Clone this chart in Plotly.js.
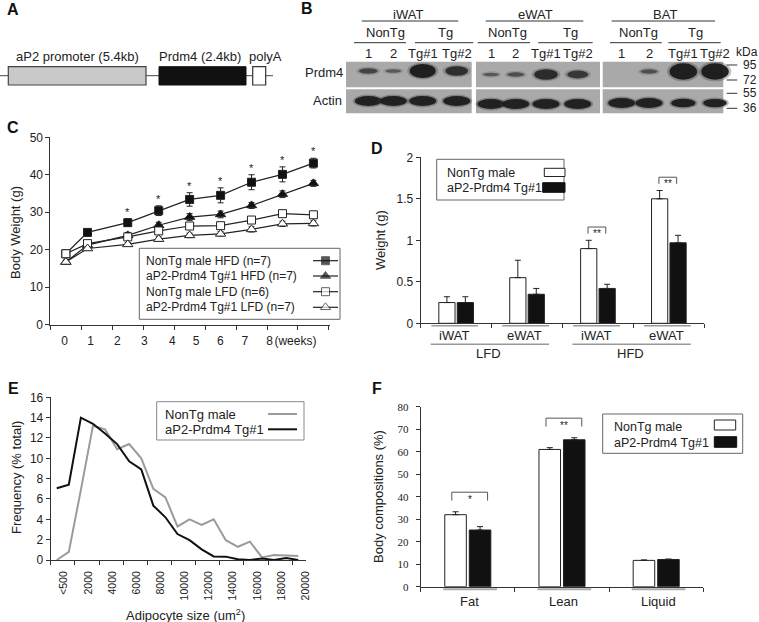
<!DOCTYPE html>
<html><head><meta charset="utf-8">
<script src="https://cdn.plot.ly/plotly-3.0.1.min.js"></script>
<style>html,body{margin:0;padding:0;background:#fff}#chart{width:759px;height:622px}</style>
</head><body><div id="chart"></div>
<script>
// ---------------- DATA ----------------
// Panel C: body weight over time
const weekPos = [0, 0.7, 2, 3, 4, 5, 6, 7, 8];
const weekLabels = ['0','1','2','3','4','5','6','7','8','(weeks)'];
const nonTgHFD    = [18.9, 24.6, 27.2, 30.4, 33.4, 34.5, 38.0, 40.1, 43.1];
const nonTgHFDerr = [0.6, 0.8, 1.0, 1.3, 1.8, 2.0, 2.0, 2.0, 1.3];
const tgHFD       = [16.7, 21.2, 23.8, 26.5, 28.7, 29.4, 31.8, 34.8, 37.7];
const tgHFDerr    = [0.5, 0.6, 0.8, 0.8, 0.9, 0.9, 0.8, 0.9, 0.8];
const nonTgLFD    = [18.9, 21.6, 23.4, 25.0, 26.3, 26.4, 27.9, 29.6, 29.3];
const nonTgLFDerr = [0.5, 0.6, 0.7, 0.7, 0.8, 0.8, 0.8, 0.9, 0.9];
const tgLFD       = [16.7, 20.3, 21.4, 22.8, 23.8, 24.2, 25.4, 26.9, 27.0];
const tgLFDerr    = [0.4, 0.5, 0.5, 0.6, 0.6, 0.6, 0.7, 0.7, 0.7];
const sigWeeksC   = [2, 3, 4, 5, 6, 7, 8];
const cNames = ['NonTg male HFD (n=7)','aP2-Prdm4 Tg#1 HFD (n=7)','NonTg male LFD (n=6)','aP2-Prdm4 Tg#1 LFD (n=7)'];

// Panel D: fat pad weights
const dCats     = ['LFD iWAT','LFD eWAT','HFD iWAT','HFD eWAT'];
const dTickText = ['iWAT','eWAT','iWAT','eWAT'];
const dGroups   = ['LFD','HFD'];
const dNonTg    = [0.25, 0.55, 0.90, 1.50];
const dNonTgErr = [0.07, 0.21, 0.10, 0.10];
const dTg       = [0.25, 0.35, 0.42, 0.97];
const dTgErr    = [0.07, 0.07, 0.05, 0.09];
const dSig      = ['', '', '**', '**'];

// Panel E: adipocyte size distribution
const sizeBins = ['<500','1000','2000','3000','4000','5000','6000','7000','8000','9000','10000',
                  '11000','12000','13000','14000','15000','16000','17000','18000','19000','20000'];
const freqNonTg = [0, 0.8, 6.9, 13.2, 12.85, 10.9, 11.4, 10.0, 7.0, 6.15, 3.3, 4.0, 3.45, 4.0, 1.95, 1.3, 1.8, 0.25, 0.5, 0.45, 0.4];
const freqTg    = [7.05, 7.4, 14.0, 13.4, 12.45, 11.4, 9.7, 8.9, 5.35, 4.2, 2.55, 1.95, 1.05, 0.35, 0.33, 0.07, 0, 0.15, 0, 0.2, 0];

// Panel F: body composition
const fCats     = ['Fat','Lean','Liquid'];
const fNonTg    = [32.0, 61.0, 11.7];
const fNonTgErr = [1.3, 0.8, 0.2];
const fTg       = [25.2, 65.3, 12.1];
const fTgErr    = [1.5, 0.9, 0.2];
const fSig      = ['*', '**', ''];

// Panel B: western blot
const tissues     = ['iWAT','eWAT','BAT'];
const groupLabels = ['NonTg','Tg'];
const laneLabels  = ['1','2','Tg#1','Tg#2'];
const prdm4Signal = [[0.55,0.35,1.0,0.8],[0.35,0.45,0.85,0.7],[0.0,0.45,1.1,1.1]];
const actinSignal = [[1,1,1,1],[1,1,1,1],[1,1,0.8,0.75]];
const kDaLabels   = ['95','72','55','36'];

// ---------------- LAYOUT HELPERS ----------------
const W = 759, H = 622;
const FONT = '"Liberation Sans", Arial, sans-serif';
const SERIF = '"Liberation Serif", "Times New Roman", serif';
const TXT = '#222';
const dx = (a,b)=>[a/W, b/W];
const dy = (t,b)=>[1-b/H, 1-t/H];
const ann = [], shp = [];
function txt(x, y, text, o) {
  o = o || {};
  ann.push(Object.assign({xref:'x9', yref:'y9', x:x, y:y, text:text, showarrow:false,
    xanchor:'center', yanchor:'middle', font:{family:FONT, size:o.size||13, color:o.color||TXT}}, o.extra||{}));
}
function line(x0,y0,x1,y1,color,width,xref,yref){
  shp.push({type:'line', xref:xref||'x9', yref:yref||'y9', x0:x0,y0:y0,x1:x1,y1:y1, line:{color:color||'#333', width:width||1}});
}
function rect(x0,y0,x1,y1,fill,lc,lw,layer){
  shp.push({type:'rect', xref:'x9', yref:'y9', x0:x0,y0:y0,x1:x1,y1:y1, fillcolor:fill, line:{color:lc||'rgba(0,0,0,0)', width:lw||0}, layer:layer||'above'});
}
function ellipse(cx,cy,w,h,color){
  shp.push({type:'circle', xref:'x9', yref:'y9', x0:cx-w/2, x1:cx+w/2, y0:cy-h/2, y1:cy+h/2, fillcolor:color, line:{width:0, color:'rgba(0,0,0,0)'}});
}
const baseAxis = {showgrid:false, zeroline:false, showline:true, linecolor:'#333', linewidth:1,
  ticks:'outside', ticklen:4, tickwidth:1, tickcolor:'#333', automargin:false, fixedrange:true,
  tickfont:{family:FONT, size:11, color:TXT}};
const ax = o => Object.assign({}, baseAxis, o);

// Panel letters
[['A',13,9],['B',307,8],['C',13,127],['D',377,148],['E',13,388],['F',377,388]].forEach(p =>
  ann.push({xref:'x9', yref:'y9', x:p[1], y:p[2], text:'<b>'+p[0]+'</b>', showarrow:false,
    xanchor:'center', yanchor:'middle', font:{family:FONT, size:16, color:'#111'}}));

// ---------------- PANEL A: construct ----------------
line(0, 75.7, 273, 75.7, '#444', 1);
rect(8.3, 66.7, 146, 85, '#c9c9c9', '#444', 1.2);
rect(159, 66.7, 246, 85, '#111', '#111', 1);
rect(252.7, 66.7, 265.7, 85, '#fff', '#333', 1.2);
txt(77.3, 56, 'aP2 promoter (5.4kb)');
txt(200, 56, 'Prdm4 (2.4kb)');
txt(265, 56, 'polyA');

// ---------------- PANEL B: western blot ----------------
const blotX = [[346,471.7],[476,600],[602.7,723.3]];
const laneXs = [[368.3,393.3,422.7,456.7],[491,515.7,546,577.7],[621.7,649,683.3,715]];
const tissueHdr = [[408.3,361.7,458.3],[535,485.7,583.3],[665,611.7,715]];
const grpHdr = [[[385,354,406],[445.7,415,473.3]],[[507.3,477.7,530],[570.7,538.3,592.7]],[[638.3,610,661.7],[695,668.3,720.7]]];
const prdmY = [71, 74.5, 71.5], actY = [101, 104, 103];
tissues.forEach((t, ti) => {
  txt(tissueHdr[ti][0], 14, t);
  line(tissueHdr[ti][1], 21, tissueHdr[ti][2], 21, '#333', 1);
  groupLabels.forEach((g, gi) => {
    const h = grpHdr[ti][gi];
    txt(h[0], 32.3, g);
    line(h[1], 42.7, h[2], 42.7, '#333', 1);
  });
  laneLabels.forEach((l, li) => txt(laneXs[ti][li], 53.3, l));
  rect(blotX[ti][0], 61.7, blotX[ti][1], 87.3, '#a9a9a9');
  rect(blotX[ti][0], 89.3, blotX[ti][1], 113.3, '#a9a9a9');
  prdm4Signal[ti].forEach((s, li) => {
    if (s <= 0) return;
    const w = 10 + 16*s, hh = 2 + 12*s*s, a = Math.min(0.95, 0.25 + 0.7*s);
    ellipse(laneXs[ti][li], prdmY[ti], w + 5, hh + 3, 'rgba(60,60,60,' + (a*0.35).toFixed(2) + ')');
    ellipse(laneXs[ti][li], prdmY[ti], w, hh, 'rgba(25,25,25,' + a.toFixed(2) + ')');
  });
  actinSignal[ti].forEach((s, li) => {
    const w = 14 + 13*s, hh = 3 + 7*s;
    ellipse(laneXs[ti][li], actY[ti], w + 4, hh + 3, 'rgba(60,60,60,0.35)');
    ellipse(laneXs[ti][li], actY[ti], w, hh, 'rgba(25,25,25,0.92)');
  });
});
txt(345, 72.7, 'Prdm4', {extra:{xanchor:'right'}});
txt(344, 100, 'Actin', {extra:{xanchor:'right'}});
txt(747, 52.3, 'kDa', {size:12});
const kDaY = [65, 80, 93.3, 108.3];
kDaLabels.forEach((k, i) => {
  line(726.7, kDaY[i], 737.3, kDaY[i], '#333', 1);
  txt(741, kDaY[i], k, {size:12, extra:{xanchor:'left'}});
});

// ---------------- TRACES ----------------
const traces = [];
const cSeries = [
  {y:nonTgHFD, e:nonTgHFDerr, sym:'square', fill:'#111', size:8},
  {y:tgHFD, e:tgHFDerr, sym:'triangle-up', fill:'#111', size:9},
  {y:nonTgLFD, e:nonTgLFDerr, sym:'square', fill:'#fff', size:8},
  {y:tgLFD, e:tgLFDerr, sym:'triangle-up', fill:'#fff', size:9}
];
cSeries.forEach((s, i) => traces.push({type:'scatter', mode:'lines+markers', name:cNames[i], x:weekPos, y:s.y,
  xaxis:'x', yaxis:'y', line:{color:'#222', width:1.2},
  marker:{symbol:s.sym, size:s.size, color:s.fill, line:{color:'#222', width:1}},
  error_y:{type:'data', array:s.e, visible:true, color:'#222', thickness:1, width:3}, hoverinfo:'skip'}));
// invisible carrier so the week-label axis is drawn
traces.push({type:'scatter', mode:'markers', x:weekPos, y:nonTgHFD, xaxis:'x2', yaxis:'y',
  marker:{opacity:0, size:1}, hoverinfo:'skip', showlegend:false});
sigWeeksC.forEach(i => ann.push({xref:'x', yref:'y', x:weekPos[i], y:nonTgHFD[i] + nonTgHFDerr[i], text:'*',
  showarrow:false, xanchor:'center', yanchor:'bottom', yshift:-1, font:{family:FONT, size:11, color:TXT}}));

// Panel C legend (text left, symbol right)
rect(139.3, 248.3, 340, 319.3, '#fff', '#666', 1, 'below');
const cLegY = [260.7, 276, 291.7, 307.3];
cNames.forEach((n, i) => {
  txt(144, cLegY[i], n, {size:12, extra:{xanchor:'left'}});
  traces.push({type:'scatter', mode:'lines+markers', x:[313, 325.5, 338], y:[cLegY[i], cLegY[i], cLegY[i]],
    xaxis:'x9', yaxis:'y9', line:{color:'#222', width:1.2},
    marker:{symbol:cSeries[i].sym, size:[0, cSeries[i].size, 0], color:cSeries[i].fill, line:{color:'#222', width:[0,1,0]}},
    hoverinfo:'skip', showlegend:false});
});
txt(15, 233, 'Body Weight (g)', {size:13, extra:{textangle:-90}});

// Panel D
const dIdx = dCats.map((_, i) => i);
const zeros = a => a.map(() => 0);
traces.push({type:'bar', x:dIdx, y:dNonTg, xaxis:'x3', yaxis:'y3', name:'NonTg male',
  marker:{color:'#fff', line:{color:'#222', width:1}},
  error_y:{type:'data', symmetric:false, array:dNonTgErr, arrayminus:zeros(dNonTgErr), color:'#222', thickness:1, width:3}, hoverinfo:'skip'});
traces.push({type:'bar', x:dIdx, y:dTg, xaxis:'x3', yaxis:'y3', name:'aP2-Prdm4 Tg#1',
  marker:{color:'#111', line:{color:'#222', width:1}},
  error_y:{type:'data', symmetric:false, array:dTgErr, arrayminus:zeros(dTgErr), color:'#222', thickness:1, width:3}, hoverinfo:'skip'});
dCats.forEach((c, i) => {
  ann.push({xref:'x3', yref:'y9', x:i - 0.03, y:335, text:dTickText[i], showarrow:false,
    font:{family:FONT, size:13, color:TXT}});
  line(i - 0.35, 325.7, i + 0.31, 325.7, '#999', 1.5, 'x3', 'y9');
  if (dSig[i]) {
    const yb = Math.max(dNonTg[i] + dNonTgErr[i], dTg[i] + dTgErr[i]) + 0.08, yt = yb + 0.08;
    shp.push({type:'path', xref:'x3', yref:'y3', path:`M ${i-0.14},${yb} L ${i-0.14},${yt} L ${i+0.11},${yt} L ${i+0.11},${yb}`,
      line:{color:'#555', width:1}});
    ann.push({xref:'x3', yref:'y3', x:i - 0.015, y:yt, text:dSig[i], showarrow:false, yanchor:'top', yshift:1,
      font:{family:FONT, size:10, color:'#222'}});
  }
});
dGroups.forEach((g, gi) => {
  const a = gi*2, b = gi*2 + 1;
  line(a - 0.36, 344.3, b + 0.31, 344.3, '#999', 1.5, 'x3', 'y9');
  ann.push({xref:'x3', yref:'y9', x:(a + b)/2 - 0.04, y:353.3, text:g, showarrow:false, font:{family:FONT, size:13, color:TXT}});
});
rect(436.7, 159.3, 564, 200, '#fff', '#666', 1, 'below');
txt(445, 172.7, 'NonTg male', {size:12.5, extra:{xanchor:'left'}});
txt(445, 188.3, 'aP2-Prdm4 Tg#1', {size:12.5, extra:{xanchor:'left'}});
rect(544.3, 168.3, 565, 176.5, '#fff', '#222', 1);
rect(542.7, 182.7, 565, 192.3, '#111', '#111', 1);
txt(380, 240, 'Weight (g)', {size:13, extra:{textangle:-90}});

// Panel E
const eIdx = sizeBins.map((_, i) => i);
traces.push({type:'scatter', mode:'lines', x:eIdx, y:freqNonTg, xaxis:'x4', yaxis:'y4', name:'NonTg male',
  line:{color:'#9b9b9b', width:2}, hoverinfo:'skip'});
traces.push({type:'scatter', mode:'lines', x:eIdx, y:freqTg, xaxis:'x4', yaxis:'y4', name:'aP2-Prdm4 Tg#1',
  line:{color:'#111', width:2}, hoverinfo:'skip'});
// invisible carrier so the bin-label axis is drawn
traces.push({type:'scatter', mode:'markers', x:eIdx, y:freqTg, xaxis:'x5', yaxis:'y4',
  marker:{opacity:0, size:1}, hoverinfo:'skip', showlegend:false});
rect(156.7, 401.7, 304, 440, '#fff', '#888', 1, 'below');
txt(162.7, 414, 'NonTg male', {size:13, extra:{xanchor:'left'}});
txt(162.7, 429.3, 'aP2-Prdm4 Tg#1', {size:13, extra:{xanchor:'left'}});
line(268, 414, 297, 414, '#9b9b9b', 2);
line(268, 429.3, 297, 429.3, '#111', 2);
txt(16, 478, 'Frequency (% total)', {size:13, extra:{textangle:-90}});
txt(185, 615, 'Adipocyte size (um<sup>2</sup>)', {size:13});
const eLabelIdx = eIdx.filter(i => i % 2 === 0);

// Panel F
const fIdx = fCats.map((_, i) => i);
traces.push({type:'bar', x:fIdx, y:fNonTg, xaxis:'x6', yaxis:'y6', name:'NonTg male',
  marker:{color:'#fff', line:{color:'#222', width:1}},
  error_y:{type:'data', symmetric:false, array:fNonTgErr, arrayminus:zeros(fNonTgErr), color:'#222', thickness:1, width:3}, hoverinfo:'skip'});
traces.push({type:'bar', x:fIdx, y:fTg, xaxis:'x6', yaxis:'y6', name:'aP2-Prdm4 Tg#1',
  marker:{color:'#111', line:{color:'#222', width:1}},
  error_y:{type:'data', symmetric:false, array:fTgErr, arrayminus:zeros(fTgErr), color:'#222', thickness:1, width:3}, hoverinfo:'skip'});
fCats.forEach((c, i) => {
  ann.push({xref:'x6', yref:'y9', x:i + 0.02, y:601, text:c, showarrow:false, font:{family:FONT, size:13, color:TXT}});
  line(i - 0.26, 589.3, i + 0.31, 589.3, '#aaa', 2, 'x6', 'y9');
  if (fSig[i]) {
    const yb = Math.max(fNonTg[i] + fNonTgErr[i], fTg[i] + fTgErr[i]) + 5, yt = yb + 3.7;
    shp.push({type:'path', xref:'x6', yref:'y6', path:`M ${i-0.17},${yb} L ${i-0.17},${yt} L ${i+0.21},${yt} L ${i+0.21},${yb}`,
      line:{color:'#555', width:1}});
    ann.push({xref:'x6', yref:'y6', x:i + 0.02, y:yt, text:fSig[i], showarrow:false, yanchor:'top', yshift:0,
      font:{family:FONT, size:10, color:'#222'}});
  }
});
rect(602.7, 414, 742.7, 453.3, '#fff', '#666', 1, 'below');
txt(612.3, 426.7, 'NonTg male', {size:12.5, extra:{xanchor:'left'}});
txt(612.3, 442.7, 'aP2-Prdm4 Tg#1', {size:12.5, extra:{xanchor:'left'}});
rect(714.3, 420, 735.7, 430, '#fff', '#222', 1);
rect(714.3, 436.7, 736.7, 447.3, '#111', '#111', 1);
txt(378.3, 496.7, 'Body compositions (%)', {size:13, extra:{textangle:-90}});

// ---------------- LAYOUT ----------------
const halfTicks = n0 => { const a = []; for (let v = n0[0]; v <= n0[1] + 1e-9; v += n0[2]) a.push(v); return a; };
const cLabelPos = [-0.04, 0.80, 1.66, 2.54, 3.44, 4.21, 4.99, 5.78, 6.58, 7.42];
const layout = {
  width:W, height:H, margin:{l:0, r:0, t:0, b:0}, paper_bgcolor:'#fff', plot_bgcolor:'rgba(0,0,0,0)',
  showlegend:false, barmode:'group', bargap:0.48, bargroupgap:0.12,
  font:{family:FONT, size:12, color:TXT},
  // Panel C
  xaxis: ax({domain:dx(50.4, 329.5), range:[-0.5, 8.52], anchor:'y', tickmode:'array', tickvals:halfTicks([-0.5, 8.5, 1]), showticklabels:false}),
  xaxis2: ax({overlaying:'x', anchor:'y', range:[-0.5, 8.52], showline:false, tickmode:'array', tickvals:cLabelPos, ticktext:weekLabels,
    tickangle:0, ticks:'outside', ticklen:5, tickcolor:'rgba(0,0,0,0)', tickfont:{family:FONT, size:12, color:TXT}}),
  yaxis: ax({domain:dy(137.3, 324.5), range:[0, 50], anchor:'x', tickmode:'array', tickvals:[0,10,20,30,40,50], tickfont:{family:FONT, size:12, color:TXT}}),
  // Panel D
  xaxis3: ax({domain:dx(420.7, 704.3), range:[-0.5, 3.5], anchor:'y3', tickmode:'array', tickvals:halfTicks([-0.5, 3.5, 1]), showticklabels:false}),
  yaxis3: ax({domain:dy(157.3, 323.3), range:[0, 2], anchor:'x3', tickmode:'array', tickvals:[0, 0.5, 1, 1.5, 2], ticktext:['0','0.5','1','1.5','2'], tickfont:{family:FONT, size:12, color:TXT}}),
  // Panel E
  xaxis4: ax({domain:dx(50.7, 306.1), range:[-0.5, 20.65], anchor:'y4', tickmode:'array', tickvals:halfTicks([-0.5, 19.5, 2]), showticklabels:false}),
  xaxis5: ax({overlaying:'x4', anchor:'y4', range:[-0.5, 20.65], showline:false, tickmode:'array',
    tickvals:eLabelIdx.map(i => i + 0.6), ticktext:eLabelIdx.map(i => sizeBins[i]), tickangle:-90,
    ticks:'outside', ticklen:6, tickcolor:'rgba(0,0,0,0)', tickfont:{family:FONT, size:10.5, color:TXT}}),
  yaxis4: ax({domain:dy(397.3, 560), range:[0, 16], anchor:'x4', tickmode:'array', tickvals:[0,2,4,6,8,10,12,14,16], tickfont:{family:FONT, size:12, color:TXT}}),
  // Panel F
  xaxis6: ax({domain:dx(420.7, 703.3), range:[-0.5, 2.5], anchor:'y6', tickmode:'array', tickvals:halfTicks([-0.5, 2.5, 1]), showticklabels:false}),
  yaxis6: ax({domain:dy(406.7, 586.7), range:[0, 80], anchor:'x6', tickmode:'array', tickvals:[0,10,20,30,40,50,60,70,80],
    ticklabelstandoff:5, tickfont:{family:SERIF, size:11, color:TXT}}),
  // pixel overlay for decorations
  xaxis9: {domain:[0,1], range:[0, W], visible:false, fixedrange:true, anchor:'y9'},
  yaxis9: {domain:[0,1], range:[H, 0], visible:false, fixedrange:true, anchor:'x9'},
  annotations: ann, shapes: shp
};
Plotly.newPlot('chart', traces, layout, {staticPlot:true, displayModeBar:false});
</script>
</body></html>
